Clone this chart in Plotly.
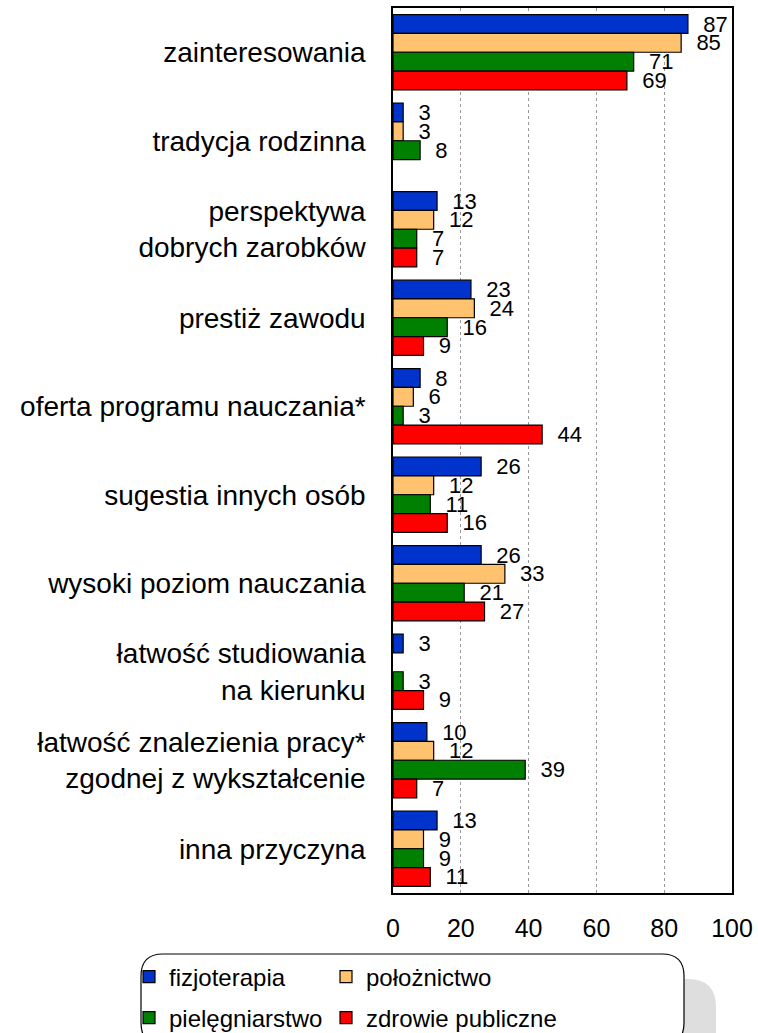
import plotly.graph_objects as go

categories = [
    "zainteresowania",
    "tradycja rodzinna",
    "perspektywa<br>dobrych zarobków",
    "prestiż zawodu",
    "oferta programu nauczania*",
    "sugestia innych osób",
    "wysoki poziom nauczania",
    "łatwość studiowania<br>na kierunku",
    "łatwość znalezienia pracy*<br>zgodnej z wykształcenie",
    "inna przyczyna",
]
fizjoterapia = [87, 3, 13, 23, 8, 26, 26, 3, 10, 13]
poloznictwo = [85, 3, 12, 24, 6, 12, 33, None, 12, 9]
pielegniarstwo = [71, 8, 7, 16, 3, 11, 21, 3, 39, 9]
zdrowie_publiczne = [69, None, 7, 9, 44, 16, 27, 9, 7, 11]

series_names = ["fizjoterapia", "położnictwo", "pielęgniarstwo", "zdrowie publiczne"]
series_values = [fizjoterapia, poloznictwo, pielegniarstwo, zdrowie_publiczne]
series_colors = ["#0033CC", "#FFC370", "#008000", "#FF0000"]
x_ticks = [0, 20, 40, 60, 80, 100]

W, H = 758, 1033
ML, MR, MT, MB = 393, 26, 8, 140
PW, PH = W - ML - MR, H - MT - MB
FONT = "Liberation Sans, Arial, sans-serif"


def px2x(px):  # page px -> paper x
    return (px - ML) / PW


def px2y(py):  # page px -> paper y
    return (H - MB - py) / PH


legend_ids = ["legend", "legend2", "legend3", "legend4"]
legend_pos = [(129, 977), (326, 977), (129, 1018), (326, 1018)]

fig = go.Figure()
for name, vals, color, leg in zip(series_names, series_values, series_colors, legend_ids):
    fig.add_trace(go.Bar(
        y=categories, x=vals, name=name, orientation="h",
        marker=dict(color=color, line=dict(color="black", width=1.2)),
        text=[("\u00a0\u00a0" + str(v)) if v is not None else "" for v in vals],
        textposition="outside", constraintext="none", cliponaxis=False,
        textfont=dict(size=22, color="black", family=FONT),
        legend=leg, hoverinfo="x+name",
    ))


def rounded_rect(x0, y0, x1, y1, r):
    def P(x, y):
        return f"{px2x(x):.5f},{px2y(y):.5f}"
    return (f"M {P(x0 + r, y0)} L {P(x1 - r, y0)} Q {P(x1, y0)} {P(x1, y0 + r)} "
            f"L {P(x1, y1 - r)} Q {P(x1, y1)} {P(x1 - r, y1)} L {P(x0 + r, y1)} "
            f"Q {P(x0, y1)} {P(x0, y1 - r)} L {P(x0, y0 + r)} Q {P(x0, y0)} {P(x0 + r, y0)} Z")


fig.add_shape(type="path", xref="paper", yref="paper",
              path=rounded_rect(175, 979, 716, 1075, 28),
              fillcolor="#DEDEDE", line=dict(width=0), layer="above")
fig.add_shape(type="path", xref="paper", yref="paper",
              path=rounded_rect(141, 954, 684, 1045, 22),
              fillcolor="white", line=dict(color="black", width=1.2), layer="above")

legends = {}
for lid, (lx, ly) in zip(legend_ids, legend_pos):
    legends[lid] = dict(orientation="h", xanchor="left", yanchor="middle",
                        x=px2x(lx), y=px2y(ly),
                        bgcolor="rgba(0,0,0,0)",
                        font=dict(size=24, family=FONT, color="black"))

fig.update_layout(
    width=W, height=H, margin=dict(l=ML, r=MR, t=MT, b=MB, autoexpand=False),
    paper_bgcolor="white", plot_bgcolor="white",
    barmode="group", bargap=0.15, bargroupgap=0,
    font=dict(family=FONT, size=20, color="black"),
    xaxis=dict(range=[0, 100], tickvals=x_ticks, showgrid=True,
               gridcolor="#999999", griddash="dot", gridwidth=1,
               zeroline=False, showline=True, linecolor="black", linewidth=1.5,
               mirror=True, ticks="", ticklabelstandoff=12,
               tickfont=dict(size=25, family=FONT, color="black")),
    yaxis=dict(type="category", autorange="reversed", showticklabels=True,
               ticklabelstandoff=20,
               tickfont=dict(size=28, family=FONT, color="black"),
               showline=True, linecolor="black", linewidth=1.5, mirror=True,
               showgrid=False, zeroline=False, ticks=""),
    showlegend=True,
    **legends,
)

fig.write_html(
    "out.html",
    config={"displayModeBar": False},
    post_script="document.body.style.margin='0';document.body.style.overflow='hidden';",
)
